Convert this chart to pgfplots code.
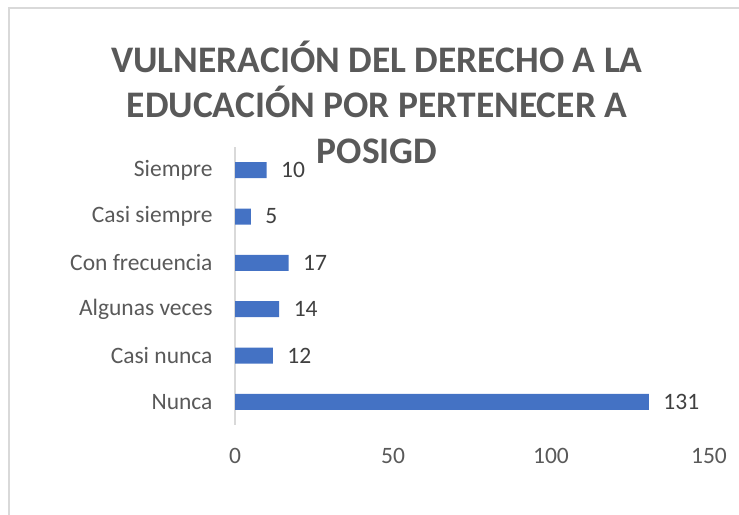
\documentclass[border=0pt]{standalone}
\usepackage{pgfplots}
\pgfplotsset{compat=1.18}
\usepackage{fontspec}
\setmainfont{Carlito}
\definecolor{barblue}{HTML}{4472C4}
\definecolor{txtgray}{HTML}{595959}
\definecolor{lblgray}{HTML}{404040}
\definecolor{bordergray}{HTML}{D9D9D9}
\begin{document}
\begin{tikzpicture}
\path[use as bounding box] (0bp,0bp) rectangle (739bp,515bp);
\draw[bordergray, line width=1.2bp] (9bp,0bp) -- (9bp,507bp) -- (739bp,507bp);
\begin{axis}[
  at={(235bp,90bp)}, anchor=south west,
  width=474bp, height=278bp, scale only axis,
  xbar, bar width=16bp,
  xmin=0, xmax=150, ymin=-0.5, ymax=5.5,
  ytick={0,1,2,3,4,5},
  yticklabels={Nunca,Casi nunca,Algunas veces,Con frecuencia,Casi siempre,Siempre},
  xtick={0,50,100,150},
  axis x line*=bottom, x axis line style={draw=none},
  axis y line*=left, y axis line style={bordergray, line width=1.2bp},
  major tick length=0, tick style={draw=none},
  /pgf/number format/assume math mode=true,
  ticklabel style={font=\fontsize{23.5bp}{28bp}\selectfont, text=txtgray},
  xticklabel style={yshift=-20bp},
  yticklabel style={xshift=-19bp},
  nodes near coords,
  nodes near coords style={font=\fontsize{23.5bp}{28bp}\selectfont, text=lblgray, xshift=11bp},
  clip=false,
]
\addplot[fill=barblue, draw=none] coordinates {
  (131,0) (12,1) (14,2) (17,3) (5,4) (10,5)
};
\end{axis}
\node[font=\bfseries\fontsize{37.5bp}{45.5bp}\selectfont, text=txtgray, align=center] at (377bp,413bp)
  {VULNERACIÓN DEL DERECHO A LA\\EDUCACIÓN POR PERTENECER A\\POSIGD};
\end{tikzpicture}
\end{document}
